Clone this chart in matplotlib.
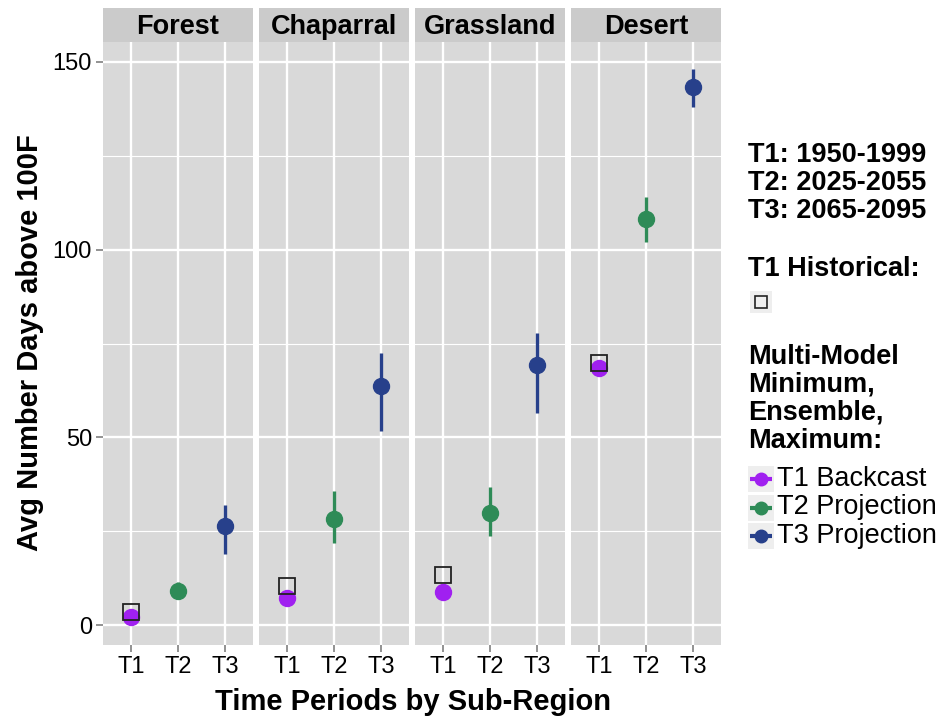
import matplotlib
matplotlib.use("Agg")
import matplotlib.pyplot as plt
from matplotlib.patches import Rectangle

# ---------------- data ----------------
regions = ["Forest", "Chaparral", "Grassland", "Desert"]
periods = ["T1", "T2", "T3"]

t1_backcast = [2.1, 7.1, 8.8, 68.6]
t1_historical = [3.4, 10.4, 13.3, 69.7]
t2_ens = [9.0, 28.3, 29.8, 108.1]
t2_min = [8.0, 21.9, 23.8, 102.0]
t2_max = [11.5, 35.7, 36.8, 114.1]
t3_ens = [26.5, 63.7, 69.2, 143.2]
t3_min = [19.0, 51.7, 56.5, 137.9]
t3_max = [32.1, 72.5, 77.8, 148.1]

y_ticks = [0, 50, 100, 150]
y_minor = [25, 75, 125]

legend_periods = ["T1: 1950-1999", "T2: 2025-2055", "T3: 2065-2095"]
legend_series = ["T1 Backcast", "T2 Projection", "T3 Projection"]

# ---------------- style ----------------
c_t1 = "#A020F0"
c_t2 = "#2E8B57"
c_t3 = "#27408B"
panel_bg = "#D9D9D9"
strip_bg = "#CBCBCB"
FONT = "Liberation Sans"

W, H = 945, 721
fig = plt.figure(figsize=(W / 100, H / 100), dpi=100)
fig.patch.set_facecolor("white")


def fx(px):
    return px / W


def fy(py):
    return 1 - py / H


panel_lefts = [103, 259, 415, 571]
panel_w = 150
panel_top, panel_bot = 42, 645
strip_top = 8

ylo, yhi = -5.3, 155.3

for i, reg in enumerate(regions):
    left = panel_lefts[i]
    ax = fig.add_axes([fx(left), fy(panel_bot), fx(panel_w), (panel_bot - panel_top) / H])
    ax.set_facecolor(panel_bg)
    for s in ax.spines.values():
        s.set_visible(False)
    ax.set_xlim(0.4, 3.6)
    ax.set_ylim(ylo, yhi)
    for yv in y_minor:
        ax.axhline(yv, color="white", lw=0.8, zorder=0.5)
    for yv in y_ticks:
        ax.axhline(yv, color="white", lw=1.7, zorder=0.6)
    for xv in (1, 2, 3):
        ax.axvline(xv, color="white", lw=1.7, zorder=0.6)

    ax.set_xticks([1, 2, 3])
    ax.set_xticklabels(periods, fontsize=17, family=FONT)
    ax.tick_params(axis="x", length=5, color="#7F7F7F", width=1.2, pad=3, labelcolor="black")
    ax.set_yticks(y_ticks)
    if i == 0:
        ax.set_yticklabels([str(v) for v in y_ticks], fontsize=17, family=FONT)
        ax.tick_params(axis="y", length=5, color="#7F7F7F", width=1.2, pad=3, labelcolor="black")
    else:
        ax.tick_params(axis="y", length=0, labelleft=False)

    # T2 and T3 point ranges
    ax.plot([2, 2], [t2_min[i], t2_max[i]], color=c_t2, lw=2.4, zorder=2, solid_capstyle="butt")
    ax.plot([2], [t2_ens[i]], "o", color=c_t2, ms=11.5, mec=c_t2, zorder=3)
    ax.plot([3, 3], [t3_min[i], t3_max[i]], color=c_t3, lw=2.4, zorder=2, solid_capstyle="butt")
    ax.plot([3], [t3_ens[i]], "o", color=c_t3, ms=11.5, mec=c_t3, zorder=3)
    # T1 backcast and historical
    ax.plot([1], [t1_backcast[i]], "o", color=c_t1, ms=11.5, mec=c_t1, zorder=3)
    ax.plot([1], [t1_historical[i]], "s", mfc="none", mec="#222222", mew=1.3, ms=11.5, zorder=4)

    # strip
    sax = fig.add_axes([fx(left), fy(panel_top), fx(panel_w), (panel_top - strip_top) / H])
    sax.set_facecolor(strip_bg)
    sax.set_xticks([])
    sax.set_yticks([])
    for s in sax.spines.values():
        s.set_visible(False)
    sax.text(0.5, 0.45, reg, ha="center", va="center", fontsize=19.5, fontweight="bold",
             family=FONT, transform=sax.transAxes)

# axis titles
fig.text(fx(413), fy(702), "Time Periods by Sub-Region", ha="center", va="center",
         fontsize=21, fontweight="bold", family=FONT)
fig.text(fx(30), fy(343), "Avg Number Days above 100F", ha="center", va="center",
         rotation=90, fontsize=21, fontweight="bold", family=FONT)

# legend-like annotations
lx = 748
for k, t in enumerate(legend_periods):
    fig.text(fx(lx), fy(155 + 28 * k), t, ha="left", va="center", fontsize=19.5,
             fontweight="bold", family=FONT)
fig.text(fx(lx), fy(269), "T1 Historical:", ha="left", va="center", fontsize=19.5,
         fontweight="bold", family=FONT)

kax = fig.add_axes([0, 0, 1, 1], facecolor="none")
kax.set_xlim(0, W)
kax.set_ylim(H, 0)
kax.axis("off")
kax.add_patch(Rectangle((750, 291), 22, 22, facecolor="#EEEEEE", edgecolor="none"))
kax.plot([761], [302], "s", mfc="none", mec="#222222", mew=1.2, ms=9)

for k, t in enumerate(["Multi-Model", "Minimum,", "Ensemble,", "Maximum:"]):
    fig.text(fx(lx), fy(357 + 28 * k), t, ha="left", va="center", fontsize=19.5,
             fontweight="bold", family=FONT)

for k, (t, c) in enumerate(zip(legend_series, [c_t1, c_t2, c_t3])):
    yc = 479 + 28.5 * k
    kax.add_patch(Rectangle((748, yc - 13), 26, 26, facecolor="#EEEEEE", edgecolor="none"))
    kax.plot([750, 772], [yc, yc], color=c, lw=3, solid_capstyle="butt")
    kax.plot([761], [yc], "o", color=c, ms=9)
    fig.text(fx(777), fy(yc), t, ha="left", va="center", fontsize=19.5, family=FONT)

fig.savefig("out.png", dpi=100)
